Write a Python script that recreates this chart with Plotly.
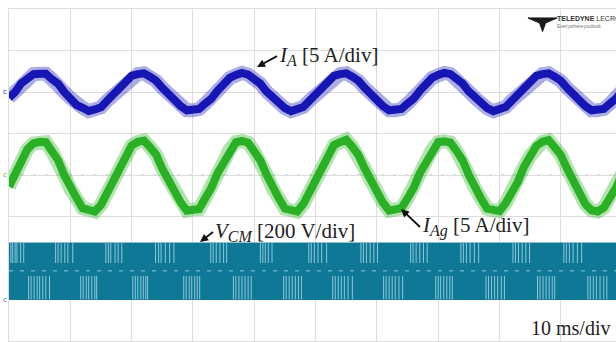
import plotly.graph_objects as go

# time axis (ms), 1 ms steps
t_ms = list(range(0, 101))

# I_A (blue), in divisions (5 A/div), offset +2 div
ia_div = [1.86, 2.00, 2.21, 2.32, 2.43, 2.44, 2.44, 2.31, 2.20, 2.00,
          1.86, 1.69, 1.62, 1.54, 1.58, 1.63, 1.79, 1.93, 2.12, 2.25,
          2.39, 2.43, 2.45, 2.37, 2.27, 2.10, 1.95, 1.77, 1.66, 1.56,
          1.56, 1.59, 1.72, 1.84, 2.03, 2.18, 2.34, 2.41, 2.46, 2.42,
          2.32, 2.20, 2.01, 1.86, 1.70, 1.61, 1.54, 1.58, 1.64, 1.79,
          1.93, 2.12, 2.25, 2.39, 2.43, 2.45, 2.37, 2.27, 2.10, 1.95,
          1.77, 1.66, 1.56, 1.56, 1.59, 1.72, 1.84, 2.03, 2.18, 2.34,
          2.41, 2.46, 2.43, 2.32, 2.20, 2.01, 1.86, 1.70, 1.61, 1.54,
          1.58, 1.64, 1.79, 1.93, 2.12, 2.25, 2.39, 2.43, 2.45, 2.37,
          2.27, 2.10, 1.95, 1.77, 1.66, 1.56, 1.56, 1.59, 1.72, 1.84, 2.03]

# I_Ag (green), in divisions (5 A/div), offset 0
iag_div = [-0.28, 0.05, 0.31, 0.62, 0.76, 0.80, 0.79, 0.58, 0.36, 0.00,
           -0.33, -0.55, -0.80, -0.84, -0.88, -0.72, -0.43, -0.16, 0.20, 0.45,
           0.71, 0.80, 0.83, 0.67, 0.49, 0.15, -0.12, -0.47, -0.66, -0.86,
           -0.83, -0.82, -0.56, -0.31, 0.04, 0.31, 0.62, 0.79, 0.82, 0.78,
           0.57, 0.35, 0.01, -0.32, -0.56, -0.81, -0.85, -0.88, -0.70, -0.43,
           -0.15, 0.19, 0.46, 0.72, 0.79, 0.85, 0.68, 0.48, 0.16, -0.13,
           -0.47, -0.67, -0.86, -0.84, -0.80, -0.56, -0.31, 0.04, 0.32, 0.61,
           0.79, 0.81, 0.78, 0.58, 0.35, 0.00, -0.32, -0.57, -0.81, -0.85,
           -0.87, -0.68, -0.44, -0.16, 0.20, 0.46, 0.70, 0.80, 0.84, 0.67,
           0.48, 0.16, -0.13, -0.46, -0.70, -0.85, -0.88, -0.79, -0.57, -0.31, 0.03]

# V_CM (teal) switching band levels, in divisions (200 V/div)
vcm_high = -1.64
vcm_low = -3.00
vcm_mid = -2.31
vcm_top_pulse_end = -2.12
vcm_bot_pulse_end = -2.43

# gaps visible in the switching band (ms)
vcm_top_pulses = [0.3, 0.6, 1.0, 1.3, 1.9, 2.4,
                  7.6, 8.0, 8.5, 9.1, 9.6, 10.4,
                  15.8, 16.2, 16.6, 17.3, 17.8, 18.4,
                  23.9, 24.4, 24.8, 25.5, 26.2, 26.9,
                  32.9, 33.3, 33.8, 34.4, 35.0, 35.5,
                  41.0, 41.4, 41.8, 42.3, 42.9,
                  48.9, 49.3, 49.8, 50.4, 51.0, 51.8,
                  57.4, 57.8, 58.3, 58.9, 59.5, 60.1,
                  65.5, 65.9, 66.4, 67.0, 67.6, 68.2,
                  73.7, 74.1, 74.6, 75.2, 75.9, 76.6,
                  82.2, 82.6, 83.1, 83.7, 84.3, 84.9,
                  90.5, 90.9, 91.4, 92.0, 92.7, 93.4]
vcm_bot_pulses = [3.2, 3.6, 4.1, 4.6, 5.0, 5.5, 6.0, 6.6,
                  11.7, 12.1, 12.6, 13.0, 13.5, 14.0, 14.3,
                  20.2, 20.6, 21.0, 21.5, 21.9, 22.3, 22.6,
                  28.5, 28.9, 29.4, 29.8, 30.3, 30.7, 31.1,
                  36.6, 37.0, 37.5, 38.0, 38.5, 39.0, 39.5,
                  44.8, 45.2, 45.7, 46.2, 46.7, 47.2, 47.7,
                  52.8, 53.2, 53.7, 54.2, 54.7, 55.3, 56.0,
                  61.1, 61.5, 62.0, 62.5, 63.0, 63.6, 64.2,
                  69.6, 70.0, 70.4, 70.9, 71.4, 71.9, 72.3,
                  77.8, 78.2, 78.7, 79.2, 79.7, 80.3, 80.8,
                  86.2, 86.6, 87.1, 87.6, 88.1, 88.6, 89.0,
                  94.4, 94.8, 95.3, 95.8, 96.4, 97.0, 97.5]

BLUE = "#1616B4"
GREEN = "#2AB024"
TEAL = "#0E7896"
PULSE = "#8CC8DA"
SERIF = "Liberation Serif"

fig = go.Figure()

# V_CM band
t0, t1 = t_ms[0], t_ms[-1]
fig.add_trace(go.Scatter(x=[t0, t1, t1, t0, t0],
                         y=[vcm_high, vcm_high, vcm_low, vcm_low, vcm_high],
                         mode="lines", fill="toself", fillcolor=TEAL,
                         line=dict(color=TEAL, width=1), hoverinfo="skip"))
fig.add_trace(go.Scatter(x=[t0, t1], y=[vcm_mid, vcm_mid], mode="lines",
                         line=dict(color=PULSE, width=1, dash="4px,7px"),
                         hoverinfo="skip"))
px, py = [], []
for p in vcm_top_pulses:
    px += [p, p, None]
    py += [vcm_high, vcm_top_pulse_end, None]
for p in vcm_bot_pulses:
    px += [p, p, None]
    py += [vcm_low, vcm_bot_pulse_end, None]
fig.add_trace(go.Scatter(x=px, y=py, mode="lines",
                         line=dict(color=PULSE, width=1), hoverinfo="skip"))

# currents: fuzzy halo + core
for ys, col in [(ia_div, BLUE), (iag_div, GREEN)]:
    fig.add_trace(go.Scatter(x=t_ms, y=ys, mode="lines",
                             line=dict(color=col, width=14), opacity=0.35,
                             hoverinfo="skip"))
    fig.add_trace(go.Scatter(x=t_ms, y=ys, mode="lines",
                             line=dict(color=col, width=8), hoverinfo="skip"))

grid = "#DDDDDD"
fig.update_layout(
    width=616, height=342,
    margin=dict(l=9, r=0, t=9, b=1),
    paper_bgcolor="white", plot_bgcolor="white",
    showlegend=False,
    xaxis=dict(range=[0, 99.0], dtick=10, tick0=0, showgrid=True,
               gridcolor=grid, gridwidth=1, zeroline=False,
               showticklabels=False, ticks="", showline=True,
               linecolor=grid, mirror=True),
    yaxis=dict(range=[-4, 4], dtick=1, tick0=0, showgrid=True,
               gridcolor=grid, gridwidth=1, zeroline=False,
               showticklabels=False, ticks="", showline=True,
               linecolor=grid, mirror=True),
)
fig.add_hline(y=0, line=dict(color="#BBBBBB", width=1, dash="3px,9px"),
              layer="below")

SUB = "<sub><i><span style='font-size:16px'>{}</span></i></sub>"
tf = dict(family=SERIF, size=21, color="#222222")
arr = dict(showarrow=True, arrowhead=2, arrowsize=0.9, arrowwidth=1.8,
           arrowcolor="#111111", xref="paper", yref="paper",
           xanchor="left", yanchor="middle", font=tf, standoff=0)
fig.add_annotation(x=0.4086, y=0.825, ax=20, ay=-11,
                   text="<i>I</i>" + SUB.format("A") + " [5 A/div]", **arr)
fig.add_annotation(x=0.3147, y=0.298, ax=13, ay=-10,
                   text="<i>V</i>" + SUB.format("CM") + " [200 V/div]", **arr)
fig.add_annotation(x=0.6458, y=0.3976, ax=19, ay=18,
                   text="<i>I</i>" + SUB.format("Ag") + " [5 A/div]", **arr)
fig.add_annotation(xref="paper", yref="paper", x=0.993, y=0.040,
                   xanchor="right", yanchor="middle", showarrow=False,
                   text="10 ms/div", font=dict(family=SERIF, size=20, color="#222222"))

# logo
fig.add_shape(type="path", xref="paper", yref="paper",
              path="M 0.855 0.973 L 0.903 0.973 L 0.884 0.958 L 0.879 0.932 "
                   "L 0.874 0.958 Z",
              fillcolor="#1A1A1A", line=dict(color="#1A1A1A", width=1))
fig.add_annotation(xref="paper", yref="paper", x=0.900, y=0.970,
                   xanchor="left", yanchor="middle", showarrow=False,
                   text="<b>TELEDYNE</b> LECROY",
                   font=dict(family="Liberation Sans", size=7, color="#333333"))
fig.add_annotation(xref="paper", yref="paper", x=0.900, y=0.950,
                   xanchor="left", yanchor="middle", showarrow=False,
                   text="Everywhereyoulook",
                   font=dict(family="Liberation Sans", size=5, color="#777777"))

# channel markers
for yv, col in [(2.0, BLUE), (0.0, GREEN), (-3.0, TEAL)]:
    fig.add_annotation(x=0, y=yv, xref="x", yref="y", xanchor="right",
                       yanchor="middle", showarrow=False, text="c",
                       font=dict(family="DejaVu Sans", size=7, color=col))

fig.write_html("out.html", config={"displayModeBar": False},
               post_script="document.body.style.margin='0';"
                           "document.body.style.overflow='hidden';")
